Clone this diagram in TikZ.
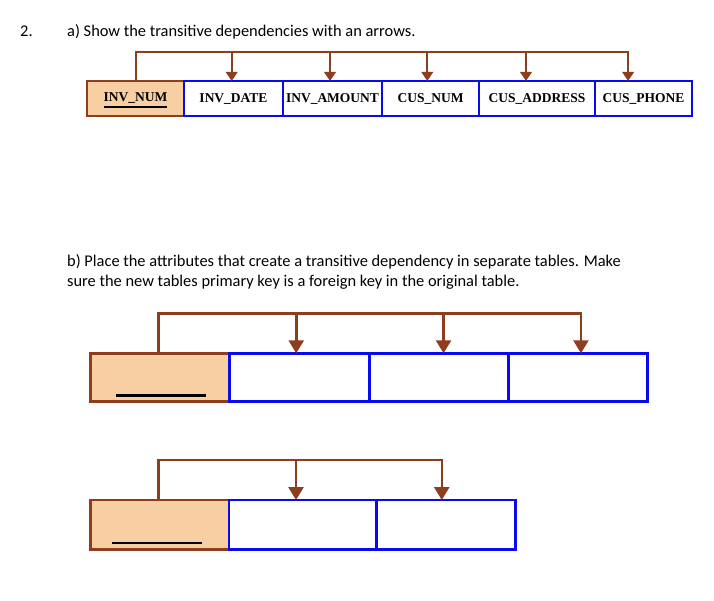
\documentclass[tikz,border=0pt]{standalone}
\usepackage{fontspec}
\setmainfont{Carlito}
\newfontfamily\tabfont{Liberation Serif}
\usetikzlibrary{arrows.meta,positioning}

\definecolor{keybrown}{HTML}{8E3E1C}
\definecolor{keyfill}{HTML}{F7CFA2}
\definecolor{attblue}{HTML}{0A0AF0}

\newcommand\keyunder[1]{{\setbox0\hbox{#1}\rlap{\smash{\rule[-5.8pt]{\wd0}{1.5pt}}}\box0}}

\tikzset{
  cell/.style={draw, outer sep=0pt, inner sep=0pt, line width=2pt,
    font=\tabfont\bfseries\fontsize{13.5}{14}\selectfont},
  keycell/.style={cell, draw=keybrown, fill=keyfill},
  attcell/.style={cell, draw=attblue, fill=white},
  bigcell/.style={line width=2.8pt},
  dep/.style={draw=keybrown, line width=2pt},
  deparrow/.style={dep, -{Triangle[width=11.5pt,length=9pt]}},
  bigarrow/.style={dep, line width=2.5pt, -{Triangle[width=15pt,length=13pt]}},
  prompt/.style={anchor=base west, inner sep=0pt, font=\fontsize{16.4}{18}\selectfont},
  keyline/.style={line width=2.5pt}
}

\begin{document}
\begin{tikzpicture}[x=1pt,y=-1pt]
  \useasboundingbox (0,0) rectangle (714,601);

  % prompts
  \node[prompt] (num) at (20,36.5) {2.};
  \node[prompt] (parta) at (67,36.5) {a) Show the transitive dependencies with an arrows.};
  \node[prompt] (partb) at (67,266.5) {b) Place the attributes that create a transitive dependency in separate tables. Make};
  \node[prompt] (partb2) at (67,287) {sure the new tables primary key is a foreign key in the original table.};

  % a) invoice table
  \node[keycell, minimum width=97pt, minimum height=35pt] (inv) at (135.5,98.5) {\keyunder{INV\_NUM}};
  \node[attcell, minimum width=99pt, minimum height=35pt, right=0pt of inv] (date) {INV\_DATE};
  \node[attcell, minimum width=99pt, minimum height=35pt, right=0pt of date] (amount) {INV\_AMOUNT};
  \node[attcell, minimum width=97pt, minimum height=35pt, right=0pt of amount] (cusnum) {CUS\_NUM};
  \node[attcell, minimum width=116pt, minimum height=35pt, right=0pt of cusnum] (cusaddr) {CUS\_ADDRESS};
  \node[attcell, minimum width=97pt, minimum height=35pt, right=0pt of cusaddr] (cusphone) {CUS\_PHONE};

  \coordinate (bara) at (0,52.3);
  \draw[deparrow] (inv.north) -- (inv.north |- bara) -| ([xshift=-15.4pt]cusphone.north);
  \foreach \n/\s in {date/-1.8,amount/-2.5,cusnum/-3.2,cusaddr/-11}
    \draw[deparrow] ([xshift=\s pt]\n.north |- bara) -- ([xshift=\s pt]\n.north);

  % b) first new table
  \node[keycell, bigcell, minimum width=138.5pt, minimum height=48.4pt] (keyb) at (160,377.5) {};
  \node[attcell, bigcell, minimum width=140pt, minimum height=48.4pt, right=0pt of keyb] (b1) {};
  \node[attcell, bigcell, minimum width=139pt, minimum height=48.4pt, right=0pt of b1] (b2) {};
  \node[attcell, bigcell, minimum width=139pt, minimum height=48.4pt, right=0pt of b2] (b3) {};
  \draw[keyline] ([xshift=-44.3pt,yshift=6pt]keyb.south) -- ++(90,0);

  \coordinate (barb) at (0,313.3);
  \draw[bigarrow] ([xshift=-1.7pt]keyb.north) -- ([xshift=-1.7pt]keyb.north |- barb) -| ([xshift=3.2pt]b3.north);
  \foreach \n/\s in {b1/-3,b2/4.8}
    \draw[bigarrow] ([xshift=\s pt]\n.north |- barb) -- ([xshift=\s pt]\n.north);

  % b) second new table
  \node[keycell, bigcell, minimum width=138.3pt, minimum height=49.3pt] (keyc) at (159.9,524.7) {};
  \node[attcell, bigcell, minimum width=147.7pt, minimum height=49.3pt, right=0pt of keyc] (c1) {};
  \node[attcell, bigcell, minimum width=139pt, minimum height=49.3pt, right=0pt of c1] (c2) {};
  \draw[keyline] ([xshift=-48.2pt,yshift=6.6pt]keyc.south) -- ++(90,0);

  \coordinate (barc) at (0,460);
  \draw[bigarrow] ([xshift=-1.6pt]keyc.north) -- ([xshift=-1.6pt]keyc.north |- barc) -| ([xshift=-4.5pt]c2.north);
  \draw[bigarrow] ([xshift=-6.9pt]c1.north |- barc) -- ([xshift=-6.9pt]c1.north);
\end{tikzpicture}
\end{document}
